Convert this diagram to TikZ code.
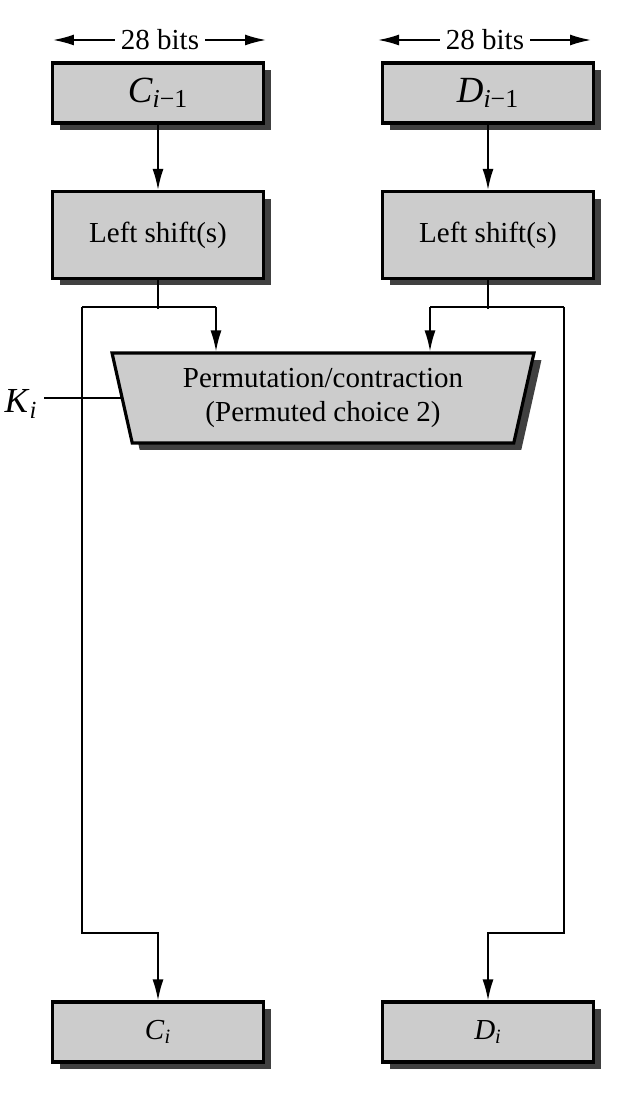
\documentclass[tikz,border=0pt]{standalone}
\usepackage{fontspec}
\setmainfont{Liberation Serif}
\usetikzlibrary{shapes.geometric,shadows,arrows.meta}

\begin{document}
\begin{tikzpicture}[x=0.02cm,y=-0.02cm,
    graybox/.style={draw,line width=1.8pt,fill=black!20,
        drop shadow={shadow xshift=0.15cm,shadow yshift=-0.14cm,fill=black!75,opacity=1}},
    keybox/.style={graybox,minimum width=4.22cm},
    wire/.style={line width=1pt},
    arr/.style={wire,-{Latex[length=0.42cm,width=0.22cm]}},
    lbl/.style={font=\fontsize{16.5}{19}\selectfont},
    big/.style={font=\fontsize{21}{24}\selectfont}]
    \useasboundingbox (0,0) rectangle (622,1104);

    % C half
    \node[lbl] (bitsc) at (160,40) {28 bits};
    \coordinate (bcl) at (53,40);
    \coordinate (bcr) at (266,40);
    \draw[arr] (bitsc) -- (bcl);
    \draw[arr] (bitsc) -- (bcr);
    \node[keybox,big,minimum height=1.2cm] (cold) at (158,93) {\textit{C}\textsubscript{\textit{i}−1}};
    \node[keybox,lbl,minimum height=1.74cm] (lsc) at (158,235) {Left shift(s)};
    \node[keybox,lbl,minimum height=1.2cm] (cnew) at (158,1032) {\textit{C}\textsubscript{\textit{i}}};

    % D half
    \node[lbl] (bitsd) at (485,40) {28 bits};
    \coordinate (bdl) at (378,40);
    \coordinate (bdr) at (591,40);
    \draw[arr] (bitsd) -- (bdl);
    \draw[arr] (bitsd) -- (bdr);
    \node[keybox,big,minimum height=1.2cm] (dold) at (488,93) {\textit{D}\textsubscript{\textit{i}−1}};
    \node[keybox,lbl,minimum height=1.74cm] (lsd) at (488,235) {Left shift(s)};
    \node[keybox,lbl,minimum height=1.2cm] (dnew) at (488,1032) {\textit{D}\textsubscript{\textit{i}}};

    % PC2
    \node[graybox,lbl,trapezium,shape border rotate=180,trapezium angle=74,
        trapezium stretches body,minimum width=8.44cm,minimum height=1.8cm,align=center]
        (perm) at (323,398) {Permutation/contraction\\(Permuted choice 2)};
    \node[font=\fontsize{20}{23}\selectfont] (ki) at (21,404) {\textit{K}\textsubscript{\textit{i}}};
    \draw[wire] (perm.west) -- (ki.east |- perm.west);

    \draw[arr] (cold) -- (lsc);
    \draw[arr] (dold) -- (lsd);

    \draw[wire] (lsc.south) -- ++(0,29) coordinate (jc);
    \coordinate (jcl) at (82,307);
    \coordinate (jcr) at (216,307);
    \coordinate (bendc) at (82,933);
    \draw[wire] (jcl) -- (jcr);
    \draw[arr] (jcr) -- (jcr |- perm.north);
    \draw[arr] (jcl) -- (bendc) -| (cnew);

    \draw[wire] (lsd.south) -- ++(0,29) coordinate (jd);
    \coordinate (jdl) at (430,307);
    \coordinate (jdr) at (564,307);
    \coordinate (bendd) at (564,933);
    \draw[wire] (jdl) -- (jdr);
    \draw[arr] (jdl) -- (jdl |- perm.north);
    \draw[arr] (jdr) -- (bendd) -| (dnew);
\end{tikzpicture}
\end{document}
